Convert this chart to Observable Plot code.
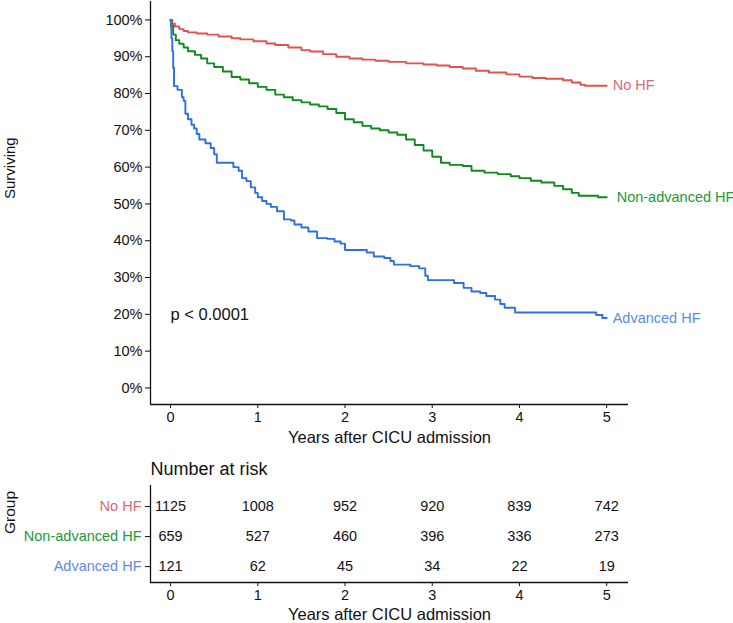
<!DOCTYPE html>
<html><head><meta charset="utf-8">
<script src="https://cdn.jsdelivr.net/npm/d3@7"></script>
<script src="https://cdn.jsdelivr.net/npm/@observablehq/plot@0.6"></script>
<style>
body{margin:0;background:#fff;}
#chart{width:733px;height:623px;overflow:hidden;background:#fff;}
#chart svg{display:block;overflow:visible;}
</style>
</head><body><div id="chart"></div>
<script>
const groups = ["No HF", "Non-advanced HF", "Advanced HF"];
const lineColors = ["#de534c", "#12891f", "#2f6fde"];
const labelColors = ["#d46b78", "#22993a", "#5f8bdc"];

const noHfTimes = [0,0.02,0.05,0.1,0.15,0.2,0.3,0.42,0.55,0.7,0.8,0.95,1.1,1.2,1.35,1.5,1.6,1.75,1.9,2.05,2.2,2.35,2.5,2.7,2.9,3.05,3.2,3.35,3.5,3.65,3.85,4.0,4.15,4.3,4.5,4.6,4.7,4.75,5.0];
const noHfSurv  = [1,0.99,0.982,0.975,0.97,0.966,0.963,0.96,0.955,0.95,0.947,0.942,0.936,0.932,0.925,0.918,0.914,0.907,0.9,0.895,0.892,0.889,0.886,0.882,0.879,0.876,0.872,0.868,0.862,0.857,0.852,0.846,0.842,0.84,0.836,0.83,0.824,0.821,0.821];

const nonAdvTimes = [0,0.01,0.03,0.06,0.1,0.15,0.2,0.28,0.35,0.42,0.5,0.6,0.7,0.8,0.9,1.0,1.1,1.2,1.3,1.4,1.5,1.6,1.7,1.8,1.9,2.0,2.1,2.2,2.3,2.4,2.5,2.6,2.7,2.8,2.9,3.0,3.1,3.2,3.35,3.45,3.6,3.75,3.9,4.0,4.13,4.25,4.4,4.5,4.6,4.68,4.85,4.9,5.0];
const nonAdvSurv  = [1,0.985,0.96,0.945,0.935,0.925,0.915,0.905,0.895,0.882,0.872,0.86,0.845,0.838,0.828,0.818,0.81,0.797,0.79,0.782,0.776,0.77,0.765,0.758,0.747,0.73,0.722,0.712,0.705,0.7,0.694,0.688,0.675,0.66,0.645,0.628,0.612,0.606,0.603,0.59,0.585,0.581,0.575,0.57,0.563,0.558,0.549,0.54,0.53,0.522,0.522,0.518,0.518];

const advTimes = [0,0.005,0.01,0.02,0.03,0.04,0.08,0.13,0.15,0.17,0.2,0.24,0.27,0.3,0.33,0.4,0.46,0.5,0.53,0.69,0.72,0.78,0.82,0.87,0.92,0.97,1.0,1.05,1.1,1.15,1.22,1.3,1.38,1.42,1.5,1.58,1.68,1.8,1.88,1.95,2.0,2.25,2.33,2.45,2.52,2.56,2.75,2.85,2.92,2.95,3.2,3.25,3.36,3.45,3.55,3.62,3.72,3.78,3.83,3.95,4.85,4.88,4.95,5.0];
const advSurv  = [1,0.98,0.95,0.915,0.87,0.82,0.81,0.79,0.78,0.745,0.73,0.715,0.705,0.69,0.675,0.665,0.652,0.635,0.612,0.612,0.6,0.59,0.57,0.562,0.545,0.53,0.518,0.508,0.5,0.492,0.48,0.458,0.455,0.444,0.436,0.425,0.407,0.405,0.398,0.392,0.375,0.368,0.357,0.353,0.345,0.335,0.331,0.325,0.305,0.293,0.293,0.285,0.272,0.262,0.258,0.25,0.24,0.228,0.218,0.205,0.205,0.198,0.19,0.19];

const riskTimes = [0,1,2,3,4,5];
const riskNoHf = [1125,1008,952,920,839,742];
const riskNonAdv = [659,527,460,396,336,273];
const riskAdv = [121,62,45,34,22,19];

const xTicks = [0,1,2,3,4,5];
const yTicks = [0,0.1,0.2,0.3,0.4,0.5,0.6,0.7,0.8,0.9,1.0];
const pValueText = "p < 0.0001";
const pValueX = 0;
const pValueY = 0.2;
const yLabel = "Surviving";
const xLabel = "Years after CICU admission";
const tableTitle = "Number at risk";
const tableYLabel = "Group";

// build tables
const seriesTimes = [noHfTimes, nonAdvTimes, advTimes];
const seriesSurv = [noHfSurv, nonAdvSurv, advSurv];
const survRows = [];
groups.forEach((g, i) => seriesTimes[i].forEach((t, j) => survRows.push({group: g, t, s: seriesSurv[i][j]})));
const endRows = groups.map((g, i) => ({group: g, t: seriesTimes[i][seriesTimes[i].length - 1], s: seriesSurv[i][seriesSurv[i].length - 1]}));
const riskSeries = [riskNoHf, riskNonAdv, riskAdv];
const riskRows = [];
groups.forEach((g, i) => riskTimes.forEach((t, j) => riskRows.push({group: g, idx: i, t, n: riskSeries[i][j]})));

const font = '"Liberation Sans", Arial, sans-serif';
const xDomain = [-0.23, 5.25];
const yDomain = [-0.045, 1.05];
const ink = "#111";

const main = Plot.plot({
  width: 733, height: 450,
  marginTop: 1, marginBottom: 46, marginLeft: 150, marginRight: 105,
  style: {fontFamily: font, fontSize: "14.5px", color: ink, background: "white", overflow: "visible"},
  x: {domain: xDomain},
  y: {domain: yDomain},
  color: {domain: groups, range: lineColors},
  marks: [
    Plot.axisX({ticks: xTicks, tickSize: 4, tickPadding: 3, tickFormat: d3.format("d"), label: null}),
    Plot.axisY({ticks: yTicks, tickSize: 5, tickPadding: 3, tickFormat: d3.format(".0%"), label: null}),
    Plot.ruleX([xDomain[0]], {stroke: ink, strokeWidth: 1.3}),
    Plot.ruleY([yDomain[0]], {stroke: ink, strokeWidth: 1.3}),
    Plot.line(survRows, {x: "t", y: "s", z: "group", stroke: "group", curve: "step-after", strokeWidth: 1.9}),
    ...groups.map((g, i) => Plot.text(endRows.filter(d => d.group === g), {x: "t", y: "s", text: "group", fill: labelColors[i], dx: i === 1 ? 10 : 6, textAnchor: "start", fontSize: 14.5})),
    Plot.text([pValueText], {x: () => pValueX, y: () => pValueY, text: d => d, textAnchor: "start", fontSize: 16.5, fill: ink}),
    Plot.text([yLabel], {text: d => d, frameAnchor: "left", dx: -140, dy: -4, rotate: -90, fontSize: 15, fill: ink}),
    Plot.text([xLabel], {text: d => d, frameAnchor: "bottom", lineAnchor: "middle", dy: 33, fontSize: 16.5, fill: ink})
  ]
});

const tYDomain = [2.53, -0.7];
const table = Plot.plot({
  width: 733, height: 173,
  marginTop: 35, marginBottom: 41, marginLeft: 150, marginRight: 105,
  style: {fontFamily: font, fontSize: "14.5px", color: ink, background: "white", overflow: "visible"},
  x: {domain: xDomain},
  y: {domain: tYDomain},
  marks: [
    Plot.axisX({ticks: xTicks, tickSize: 4, tickPadding: 3, tickFormat: d3.format("d"), label: null}),
    Plot.axisY({ticks: [0, 1, 2], tickSize: 5, tickFormat: () => "", label: null}),
    Plot.ruleX([xDomain[0]], {stroke: ink, strokeWidth: 1.3}),
    Plot.ruleY([tYDomain[0]], {stroke: ink, strokeWidth: 1.3}),
    ...groups.map((g, i) => Plot.text([g], {y: () => i, text: d => d, frameAnchor: "left", dx: -9, textAnchor: "end", fill: labelColors[i], fontSize: 14.5})),
    Plot.text(riskRows, {x: "t", y: "idx", text: d => String(d.n), fill: ink, fontSize: 14.5}),
    Plot.text([tableTitle], {text: d => d, frameAnchor: "top-left", textAnchor: "start", lineAnchor: "middle", dy: -16, fontSize: 18, fill: ink}),
    Plot.text([tableYLabel], {text: d => d, frameAnchor: "left", dx: -140, rotate: -90, fontSize: 15.5, fill: ink}),
    Plot.text([xLabel], {text: d => d, frameAnchor: "bottom", lineAnchor: "middle", dy: 32, fontSize: 16.5, fill: ink})
  ]
});

const chart = document.getElementById("chart");
chart.appendChild(main);
chart.appendChild(table);
</script>
</body></html>
